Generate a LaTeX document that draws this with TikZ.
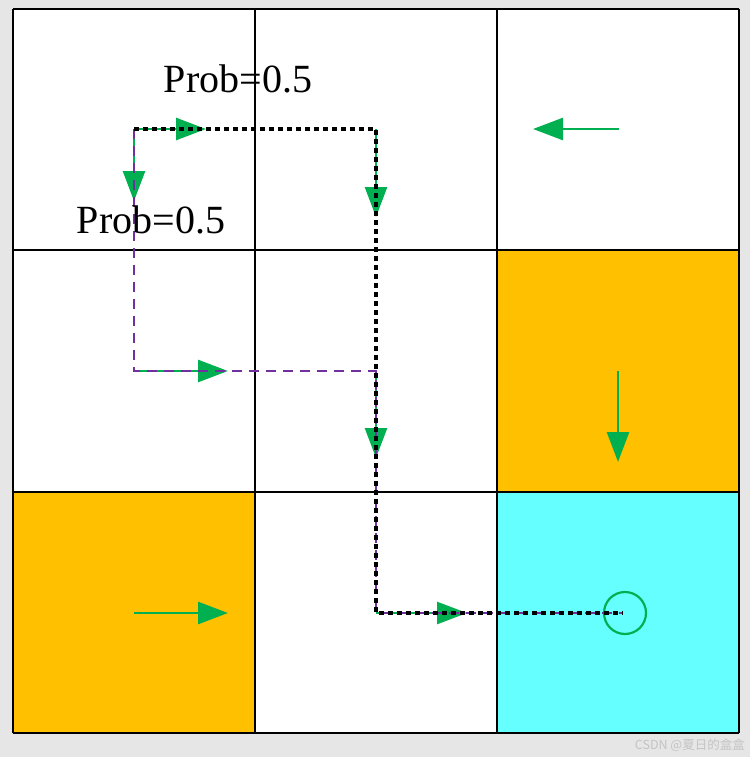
\documentclass[tikz,border=0pt]{standalone}
\usepackage{fontspec}
\setmainfont{Liberation Serif}
\newfontfamily\cjk{Noto Sans CJK SC}
\usetikzlibrary{arrows.meta}
\definecolor{pgreen}{HTML}{00B050}
\definecolor{ppurple}{HTML}{7030A0}
\definecolor{porange}{HTML}{FFC000}
\definecolor{pcyan}{HTML}{66FFFF}
\definecolor{bggray}{HTML}{E6E6E6}
\definecolor{wmgray}{HTML}{C4C4C4}
\tikzset{
  gridline/.style={line width=2.3pt, black},
  parrow/.style={pgreen, line width=2.6pt, -{Triangle[length=30pt,width=22pt]}},
  purplepath/.style={ppurple, line width=2.8pt, dash pattern=on 10pt off 7pt},
  blackpath/.style={black, line width=3.5pt, dash pattern=on 5pt off 4pt},
  problabel/.style={font=\fontsize{40}{44}\selectfont, inner sep=0pt, anchor=base},
  goalcircle/.style={circle, draw=pgreen, line width=2.2pt, minimum size=42pt, inner sep=0pt},
  watermark/.style={font=\cjk\fontsize{12.5}{14}\selectfont, text=wmgray, inner sep=0pt, anchor=base east}
}
\begin{document}
\begin{tikzpicture}[x=1pt,y=-1pt]
\fill[bggray] (0,0) rectangle (750,757);
\useasboundingbox (0,0) rectangle (750,757);
% cells
\fill[white] (13,9) rectangle (739,733);
\fill[porange] (497,250.3) rectangle (739,491.7);
\fill[porange] (13,491.7) rectangle (255,733);
\fill[pcyan] (497,491.7) rectangle (739,733);
% grid
\foreach \x in {13,255,497,739} \draw[gridline] (\x,9) -- (\x,733);
\foreach \y in {9,250.3,491.7,733} \draw[gridline] (13,\y) -- (739,\y);
% cell centres
\coordinate (c00) at (134,129);
\coordinate (c01) at (376,129);
\coordinate (c02) at (619,129);
\coordinate (c10) at (134,371);
\coordinate (c11) at (376,371);
\coordinate (c12) at (618,371);
\coordinate (c20) at (134,613);
\coordinate (c21) at (376,613);
\coordinate (goal) at (623,613);
% arrow ends
\coordinate (e00r) at (206,129);
\coordinate (e00d) at (134,201);
\coordinate (e01) at (376,217);
\coordinate (e02) at (533,129);
\coordinate (e10) at (228,371);
\coordinate (e11) at (376,458);
\coordinate (e12) at (618,462);
\coordinate (e20) at (228,613);
\coordinate (e21) at (467,613);
% policy arrows
\draw[parrow] (c00) -- (e00r);
\draw[parrow] (c00) -- (e00d);
\draw[parrow] (c01) -- (e01);
\draw[parrow] (c02) -- (e02);
\draw[parrow] (c10) -- (e10);
\draw[parrow] (c11) -- (e11);
\draw[parrow] (c12) -- (e12);
\draw[parrow] (c20) -- (e20);
\draw[parrow] (c21) -- (e21);
\node[goalcircle] (g) at (625,613) {};
% trajectories
\draw[purplepath] (c00) -- (c10) -- (c11) -- (c21) -- (goal);
\draw[blackpath] (c00) -- (c01) -- (c21) -- (goal);
% labels
\node[problabel] (p1) at (238,93) {Prob=0.5};
\node[problabel] (p2) at (151,233) {Prob=0.5};
\node[watermark] (wm) at (745,749) {CSDN @夏日的盒盒};
\end{tikzpicture}
\end{document}
